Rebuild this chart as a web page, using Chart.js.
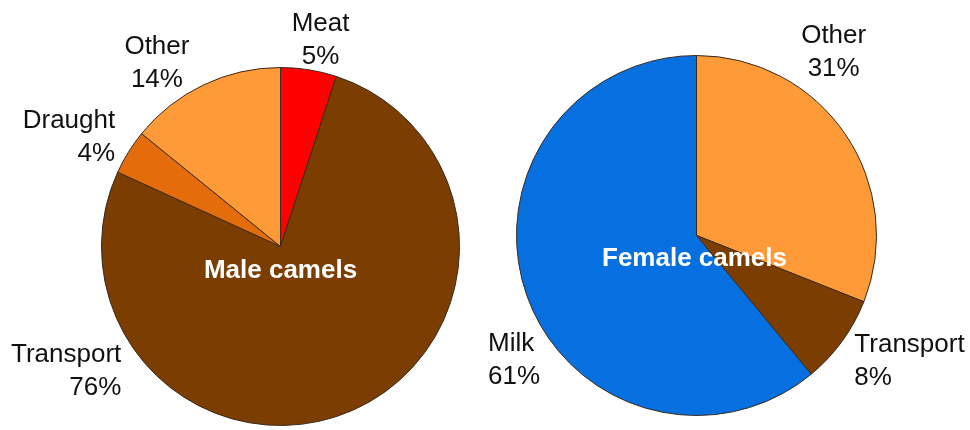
<!DOCTYPE html>
<html>
<head>
<meta charset="utf-8">
<script src="https://cdn.jsdelivr.net/npm/chart.js@4"></script>
<style>
  html, body { margin: 0; padding: 0; background: #fff; }
  #wrap { position: relative; width: 970px; height: 430px; }
  .pie { position: absolute; top: 0; width: 485px; height: 430px; }
</style>
</head>
<body>
<div id="wrap">
  <div class="pie" style="left:0"><canvas id="maleChart"></canvas></div>
  <div class="pie" style="left:485px"><canvas id="femaleChart"></canvas></div>
</div>
<script>
// Chart data
const maleCategories = ['Meat', 'Transport', 'Draught', 'Other'];
const maleValues = [5, 76, 4, 14];
const femaleCategories = ['Other', 'Transport', 'Milk'];
const femaleValues = [31, 8, 61];

// Colours per category
const colors = {
  Meat: '#ff0000',
  Transport: '#7b3e00',
  Draught: '#e46c0a',
  Other: '#ff9a38',
  Milk: '#0670e0'
};

// Where each label sits: angle from 12 o'clock (clockwise), gap outside the rim, alignment
const malePlacement = [
  { angle: 11, gap: 31, align: 'center' },
  { angle: 232, gap: 23, align: 'right' },
  { angle: 303.4, gap: 19, align: 'right' },
  { angle: 326, gap: 42, align: 'center' }
];
const femalePlacement = [
  { angle: 36.8, gap: 49, align: 'center' },
  { angle: 128.6, gap: 22, align: 'left' },
  { angle: 239.1, gap: 63, align: 'left' }
];

const FONT = '"Liberation Sans", Arial, sans-serif';

// Draws category + percent outside each slice, and the title in the middle
const sliceLabels = {
  id: 'sliceLabels',
  afterDraw(chart, args, opts) {
    const ctx = chart.ctx;
    const arcs = chart.getDatasetMeta(0).data;
    const labels = chart.data.labels;
    const values = chart.data.datasets[0].data;
    ctx.save();
    ctx.font = '26px ' + FONT;
    ctx.fillStyle = '#111111';
    ctx.textBaseline = 'middle';
    arcs.forEach((arc, i) => {
      const p = opts.placement[i];
      const a = p.angle * Math.PI / 180;
      const dist = arc.outerRadius + p.gap;
      const x = arc.x + dist * Math.sin(a);
      const y = arc.y - dist * Math.cos(a);
      ctx.textAlign = p.align;
      ctx.fillText(labels[i], x, y - 16.5);
      ctx.fillText(values[i] + '%', x, y + 16.5);
    });
    ctx.font = 'bold 26px ' + FONT;
    ctx.fillStyle = '#ffffff';
    ctx.textAlign = 'center';
    ctx.fillText(opts.title, arcs[0].x + opts.titleDx, arcs[0].y + opts.titleDy);
    ctx.restore();
  }
};

function makePie(canvasId, categories, values, placement, title, padding, titleDx, titleDy) {
  const ctx = document.getElementById(canvasId).getContext('2d');
  return new Chart(ctx, {
    type: 'pie',
    data: {
      labels: categories,
      datasets: [{
        data: values,
        backgroundColor: categories.map(c => colors[c]),
        borderColor: '#3a2a1e',
        borderWidth: 1
      }]
    },
    options: {
      responsive: true,
      maintainAspectRatio: false,
      animation: false,
      layout: { padding: padding },
      plugins: {
        legend: { display: false },
        tooltip: { enabled: false },
        sliceLabels: { placement: placement, title: title, titleDx: titleDx, titleDy: titleDy }
      }
    },
    plugins: [sliceLabels]
  });
}

makePie('maleChart', maleCategories, maleValues, malePlacement, 'Male camels',
  { left: 101, top: 67, right: 25, bottom: 4 }, 0, 24);
makePie('femaleChart', femaleCategories, femaleValues, femalePlacement, 'Female camels',
  { left: 31, top: 55, right: 93, bottom: 14 }, -2, 23);
</script>
</body>
</html>
